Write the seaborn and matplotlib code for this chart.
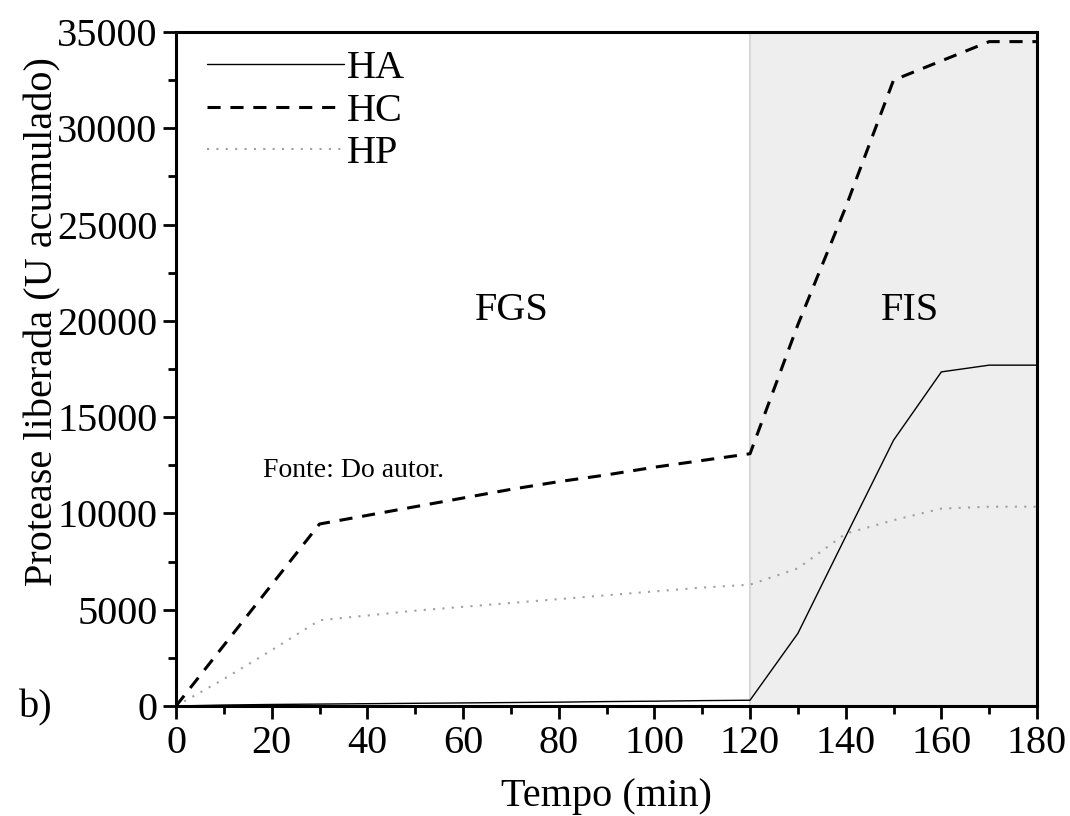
import matplotlib
matplotlib.use("Agg")
import matplotlib.pyplot as plt
import seaborn as sns
import pandas as pd
from matplotlib.ticker import MultipleLocator

sns.set_theme(style="ticks")
plt.rcParams['font.family'] = ['Liberation Serif', 'DejaVu Serif']
plt.rcParams['text.color'] = 'black'
plt.rcParams['axes.labelcolor'] = 'black'
plt.rcParams['xtick.color'] = 'black'
plt.rcParams['ytick.color'] = 'black'

tempo = [0, 10, 20, 30, 40, 50, 60, 70, 80, 90, 100, 110, 120, 130, 140, 150, 160, 170, 180]
ha = [0, 50, 80, 100, 120, 140, 160, 180, 200, 230, 250, 280, 300, 3770, 8800, 13800, 17350, 17700, 17700]
hc = [0, 3150, 6300, 9450, 9900, 10350, 10800, 11250, 11650, 12000, 12400, 12750, 13100, 19800, 25900, 32500, 33500, 34500, 34500]
hp = [0, 1400, 2900, 4450, 4700, 4950, 5150, 5350, 5550, 5750, 5950, 6150, 6300, 7150, 8950, 9650, 10250, 10350, 10350]

series_names = ["HA", "HC", "HP"]
df = pd.DataFrame({"Tempo": tempo * 3,
                   "valor": ha + hc + hp,
                   "serie": ["HA"] * len(tempo) + ["HC"] * len(tempo) + ["HP"] * len(tempo)})

fig = plt.figure(figsize=(10.70, 8.16), dpi=100)
ax = fig.add_axes([0.1645, 0.1348, 0.8047, 0.826])

ax.axvspan(120, 180, facecolor="#eeeeee", edgecolor="#d8d8d8", linewidth=1.5, zorder=0)

styles = {"HA": dict(color="black", lw=1.0, ls="-"),
          "HC": dict(color="black", lw=2.2, ls=(0, (4.3, 3.2))),
          "HP": dict(color="#a0a0a0", lw=1.5, ls=(0, (1, 3.5)))}
for name in series_names:
    sub = df[df["serie"] == name]
    sns.lineplot(data=sub, x="Tempo", y="valor", ax=ax, label=name, **styles[name])

ax.set_xlim(0, 180)
ax.set_ylim(0, 35000)
ax.xaxis.set_major_locator(MultipleLocator(20))
ax.xaxis.set_minor_locator(MultipleLocator(10))
ax.yaxis.set_major_locator(MultipleLocator(5000))
ax.yaxis.set_minor_locator(MultipleLocator(2500))
ax.tick_params(which="major", direction="out", length=9.4, width=2, labelsize=29, pad=4)
ax.tick_params(which="minor", direction="out", length=5.8, width=2)
for s in ax.spines.values():
    s.set_linewidth(2.2)
    s.set_color("black")

ax.set_xlabel("Tempo (min)", fontsize=29, labelpad=12)
ax.set_ylabel("Protease liberada (U acumulado)", fontsize=29)
ax.yaxis.set_label_coords(-0.133, 0.571)

leg = ax.legend(loc="upper left", frameon=False, fontsize=29, handlelength=3.4,
                handletextpad=0.08, labelspacing=0.13, borderpad=0, borderaxespad=0,
                bbox_to_anchor=(0.036, 0.973))

ax.text(70.2, 20560, "FGS", fontsize=29, ha="center", va="center")
ax.text(153.5, 20560, "FIS", fontsize=29, ha="center", va="center")
ax.text(18.2, 12250, "Fonte: Do autor.", fontsize=20, ha="left", va="center")
fig.text(0.033, 0.133, "b)", fontsize=29, ha="center", va="center")

fig.savefig("out.png", dpi=100)
